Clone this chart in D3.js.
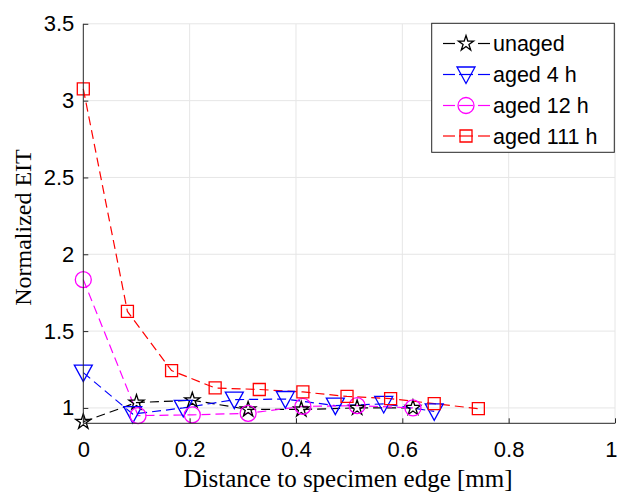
<!DOCTYPE html>
<html><head><meta charset="utf-8">
<script src="https://cdn.jsdelivr.net/npm/d3@7"></script>
<style>body{margin:0;background:#fff}</style></head>
<body>
<svg id="c" width="617" height="493"></svg>
<script>
const xTicks = [0, 0.2, 0.4, 0.6, 0.8, 1];
const yTicks = [1, 1.5, 2, 2.5, 3, 3.5];
const seriesNames = ["unaged", "aged 4 h", "aged 12 h", "aged 111 h"];
const seriesColors = ["#000000", "#0000ff", "#ff00ff", "#ff0000"];
const seriesMarkers = ["star", "triDown", "circle", "square"];
const unagedX = [0, 0.10, 0.205, 0.31, 0.41, 0.515, 0.62];
const unagedY = [0.91, 1.035, 1.05, 0.99, 0.99, 1.0, 1.0];
const aged4X = [0, 0.093, 0.188, 0.284, 0.38, 0.474, 0.565, 0.66];
const aged4Y = [1.23, 0.96, 1.0, 1.054, 1.058, 1.015, 1.026, 0.978];
const aged12X = [0, 0.103, 0.205, 0.31, 0.413, 0.515, 0.62];
const aged12Y = [1.835, 0.95, 0.955, 0.965, 1.01, 1.015, 1.0];
const aged111X = [0, 0.083, 0.166, 0.248, 0.331, 0.413, 0.496, 0.578, 0.66, 0.743];
const aged111Y = [3.076, 1.628, 1.243, 1.13, 1.12, 1.104, 1.075, 1.06, 1.028, 0.995];
const seriesX = [unagedX, aged4X, aged12X, aged111X];
const seriesY = [unagedY, aged4Y, aged12Y, aged111Y];

const svg = d3.select("#c");
const L = 83.3, R = 615, T = 23.8, B = 423.3;
const x = d3.scaleLinear().domain([0, 1]).range([L, R]);
const y = d3.scaleLinear().domain([0.9, 3.5]).range([B, T]);

svg.append("rect").attr("width", 617).attr("height", 493).attr("fill", "#fff");

// grid
const g = svg.append("g");
g.selectAll("line.gx").data(xTicks.slice(1)).enter().append("line")
  .attr("x1", d => x(d)).attr("x2", d => x(d)).attr("y1", T).attr("y2", B)
  .attr("stroke", "#e6e6e6").attr("stroke-width", 1);
g.selectAll("line.gy").data(yTicks).enter().append("line")
  .attr("x1", L).attr("x2", R).attr("y1", d => y(d)).attr("y2", d => y(d))
  .attr("stroke", "#e6e6e6").attr("stroke-width", 1);

function markerPath(type) {
  const p = d3.path();
  if (type === "star") {
    const Ro = 8, Ri = 8 * 0.382;
    for (let i = 0; i < 10; i++) {
      const r = i % 2 === 0 ? Ro : Ri;
      const a = -Math.PI / 2 + i * Math.PI / 5;
      if (i === 0) p.moveTo(r * Math.cos(a), r * Math.sin(a));
      else p.lineTo(r * Math.cos(a), r * Math.sin(a));
    }
    p.closePath();
  } else if (type === "triDown") {
    p.moveTo(-9, -7.5); p.lineTo(9, -7.5); p.lineTo(0, 9); p.closePath();
  } else if (type === "circle") {
    p.arc(0, 0, 8, 0, 2 * Math.PI);
  } else {
    p.rect(-6, -6, 12, 12);
  }
  return p.toString();
}

const line = d3.line().x(d => x(d[0])).y(d => y(d[1]));
seriesNames.forEach((name, i) => {
  const pts = seriesX[i].map((v, j) => [v, seriesY[i][j]]);
  svg.append("path").datum(pts).attr("d", line)
    .attr("fill", "none").attr("stroke", seriesColors[i])
    .attr("stroke-width", 1.2).attr("stroke-dasharray", "9,5");
});
seriesNames.forEach((name, i) => {
  const pts = seriesX[i].map((v, j) => [v, seriesY[i][j]]);
  svg.append("g").selectAll("path").data(pts).enter().append("path")
    .attr("d", markerPath(seriesMarkers[i]))
    .attr("transform", d => `translate(${x(d[0])},${y(d[1])})`)
    .attr("fill", "none").attr("stroke", seriesColors[i]).attr("stroke-width", 1.3);
});

// axes
const ax = svg.append("g").attr("transform", `translate(0,${B})`)
  .call(d3.axisBottom(x).tickValues(xTicks).tickSize(-5).tickPadding(18).tickFormat(d => String(d)));
const ay = svg.append("g").attr("transform", `translate(${L},0)`)
  .call(d3.axisLeft(y).tickValues(yTicks).tickSize(-5).tickPadding(9).tickFormat(d => String(d)));
[ax, ay].forEach(a => {
  a.select(".domain").attr("stroke", "#262626").attr("stroke-width", 1);
  a.selectAll(".tick line").attr("stroke", "#262626");
  a.selectAll("text").attr("font-family", "Liberation Sans, Arial, sans-serif")
    .attr("font-size", 22).attr("fill", "#000");
});
ax.selectAll(".tick text").filter(d => d === 1).attr("text-anchor", "end").attr("x", 2);
ax.select(".domain").attr("d", `M${L},0H${R}`);
ay.select(".domain").attr("d", `M0,${B}V${T}`);

svg.append("text").attr("x", 348).attr("y", 487).attr("text-anchor", "middle")
  .attr("font-family", "Liberation Serif, Times New Roman, serif").attr("font-size", 25)
  .text("Distance to specimen edge [mm]");
svg.append("text").attr("transform", `translate(31,${(T + B) / 2 + 4}) rotate(-90)`)
  .attr("text-anchor", "middle")
  .attr("font-family", "Liberation Serif, Times New Roman, serif").attr("font-size", 24)
  .text("Normalized EIT");

// legend
const lg = svg.append("g");
lg.append("rect").attr("x", 431.7).attr("y", 23.3).attr("width", 182.6).attr("height", 129)
  .attr("fill", "#fff").attr("stroke", "#262626").attr("stroke-width", 1);
const rowY = [43.5, 74.5, 105.5, 136];
seriesNames.forEach((name, i) => {
  const cy = rowY[i];
  const segs = seriesMarkers[i] === "star" ? [[443, 455], [478, 490]] : [[443, 455], [459, 473], [478, 490]];
  segs.forEach(s => lg.append("line").attr("x1", s[0]).attr("x2", s[1]).attr("y1", cy).attr("y2", cy)
    .attr("stroke", seriesColors[i]).attr("stroke-width", 1.2));
  lg.append("path").attr("d", markerPath(seriesMarkers[i]))
    .attr("transform", `translate(466,${cy})`)
    .attr("fill", "none").attr("stroke", seriesColors[i]).attr("stroke-width", 1.3);
  lg.append("text").attr("x", 493).attr("y", cy).attr("dy", "0.36em")
    .attr("font-family", "Liberation Sans, Arial, sans-serif").attr("font-size", 21.5)
    .attr("fill", "#000").text(name);
});
</script>
</body></html>
